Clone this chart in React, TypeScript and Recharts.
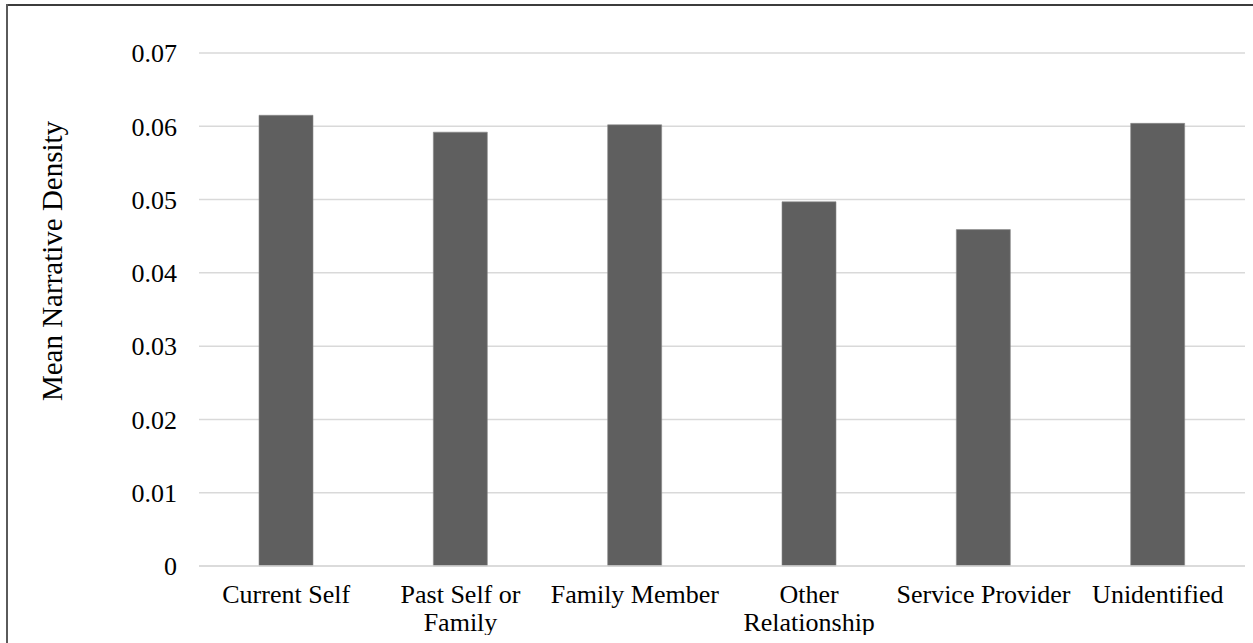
import React from "react"
import { BarChart, Bar, XAxis, YAxis, CartesianGrid } from "recharts"

// category labels, "\n" marks where the original wraps
const categories = [
  "Current Self",
  "Past Self or\nFamily",
  "Family Member",
  "Other\nRelationship",
  "Service Provider",
  "Unidentified",
]
const meanDensity = [0.0615, 0.0592, 0.0602, 0.0497, 0.0459, 0.0604]
const yTicks = [0, 0.01, 0.02, 0.03, 0.04, 0.05, 0.06, 0.07]

const FONT = "'Liberation Serif', 'Times New Roman', serif"

const data = categories.map((name, i) => ({ name, value: meanDensity[i] }))

function CategoryTick(props: any) {
  const { x, y, payload } = props
  const lines = String(payload.value).split("\n")
  return (
    <text x={x} y={y} textAnchor="middle" fill="#000" fontSize={26} fontFamily={FONT}>
      {lines.map((ln, i) => (
        <tspan key={i} x={x} dy={i === 0 ? 29 : 28}>{ln}</tspan>
      ))}
    </text>
  )
}

function YTitle() {
  const cx = 62
  const cy = 261
  return (
    <text
      x={cx}
      y={cy}
      transform={`rotate(-90, ${cx}, ${cy})`}
      textAnchor="middle"
      fontSize={29}
      fontFamily={FONT}
      fill="#000"
    >
      Mean Narrative Density
    </text>
  )
}

export default function App() {
  return (
    <div style={{ margin: -8, width: 1253, height: 643, position: "relative", overflow: "hidden", background: "#fff" }}>
      <div style={{ position: "absolute", left: 0, top: 0 }}>
        <BarChart
          width={1253}
          height={643}
          data={data}
          margin={{ top: 53, right: 8, bottom: 0, left: 70 }}
          barSize={54}
        >
          <CartesianGrid vertical={false} stroke="#d9d9d9" strokeWidth={1.5} />
          <XAxis
            dataKey="name"
            interval={0}
            height={77}
            tickLine={false}
            axisLine={{ stroke: "#d9d9d9", strokeWidth: 1.5 }}
            tick={<CategoryTick />}
          />
          <YAxis
            width={129}
            domain={[0, 0.07]}
            ticks={yTicks}
            tickLine={false}
            axisLine={false}
            tickSize={0}
            tickMargin={22}
            tickFormatter={(v: number) => (v === 0 ? "0" : v.toFixed(2))}
            tick={{ fontSize: 26, fill: "#000", fontFamily: FONT }}
            label={YTitle}
          />
          <Bar dataKey="value" fill="#5f5f5f" stroke="#8a8a8a" strokeWidth={0.6} isAnimationActive={false} />
        </BarChart>
      </div>
      {/* frame of the figure box (top and left edges only) */}
      <svg width={1253} height={643} style={{ position: "fixed", left: 0, top: 0, zIndex: 5, pointerEvents: "none" }}>
        <line x1={6} y1={5} x2={1253} y2={5} stroke="#3c3c3c" strokeWidth={2} />
        <line x1={7} y1={4} x2={7} y2={643} stroke="#5a5a5a" strokeWidth={2} />
      </svg>
    </div>
  )
}
